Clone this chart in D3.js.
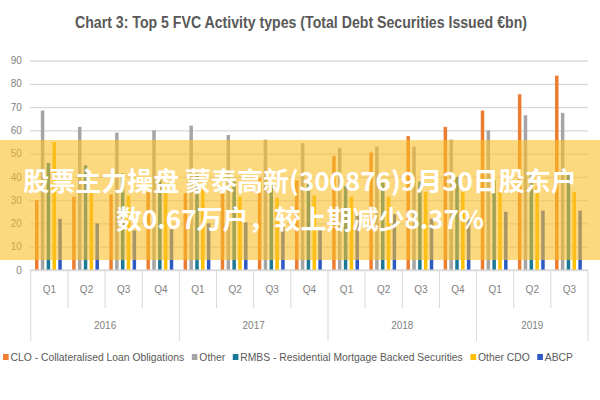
<!DOCTYPE html>
<html>
<head>
<meta charset="utf-8">
<script src="https://cdn.jsdelivr.net/npm/d3@7"></script>
<style>
  body { margin: 0; background: #fff; }
  svg { display: block; font-family: "Liberation Sans", sans-serif; }
</style>
</head>
<body>
<svg id="chart" width="600" height="400"></svg>
<script>
// Quarter categories and year groups
const quarters = ['Q1','Q2','Q3','Q4','Q1','Q2','Q3','Q4','Q1','Q2','Q3','Q4','Q1','Q2','Q3'];
const years = ['2016','2017','2018','2019'];
const yearSpans = [4, 4, 4, 3];

const seriesNames = [
  'CLO - Collateralised Loan Obligations',
  'Other',
  'RMBS - Residential Mortgage Backed Securities',
  'Other CDO',
  'ABCP'
];
const seriesColors = ['#ed7d31', '#a5a5a5', '#1b7896', '#ffc000', '#2e5ac4'];

// values in €bn
const clo      = [30, 31.5, 32.5, 33.5, 33, 33, 39.5, 38.5, 49, 50.5, 57.5, 61.5, 68.5, 75.5, 83.5];
const other    = [68.5, 61.5, 59, 60, 62, 58, 56, 54.5, 52.5, 53, 53, 56, 60, 66.5, 67.5];
const rmbs     = [46, 45, 41.5, 39, 41.5, 38, 37.5, 37, 36, 37.5, 38, 40, 38.5, 42, 41.5];
const otherCdo = [55, 33, 32, 33, 35, 31.5, 31, 32, 31.5, 31.5, 33.5, 33.5, 33.5, 36, 33.5];
const abcp     = [22, 20, 17, 17.5, 20, 20.5, 18.5, 18.5, 24, 24, 22, 22, 25, 25.5, 25.5];

const yTicks = [0, 10, 20, 30, 40, 50, 60, 70, 80, 90];

const title = 'Chart 3: Top 5 FVC Activity types (Total Debt Securities Issued €bn)';
const bannerLines = ['股票主力操盘 蒙泰高新(300876)9月30日股东户', '数0.67万户，较上期减少8.37%'];

const series = [clo, other, rmbs, otherCdo, abcp];

const svg = d3.select('#chart');
const plotLeft = 30.8, plotRight = 588, plotTop = 60.5, plotBottom = 270;

const x0 = d3.scaleBand().domain(d3.range(quarters.length)).range([plotLeft, plotRight]);
const x1 = d3.scaleBand().domain(d3.range(series.length)).range([4.2, 31]).paddingInner(0.4);
const y = d3.scaleLinear().domain([0, 90]).range([plotBottom, plotTop]);

// Title (condensed to mimic the narrow original face)
svg.append('text')
  .attr('x', 301).attr('y', 28)
  .attr('text-anchor', 'middle')
  .attr('font-size', 16).attr('font-weight', 'bold')
  .attr('fill', '#595959')
  .attr('textLength', 452).attr('lengthAdjust', 'spacingAndGlyphs')
  .text(title);

// Grid + y labels
const yAxis = svg.append('g')
  .attr('transform', `translate(${plotLeft - 1},0)`)
  .call(d3.axisLeft(y).tickValues(yTicks).tickSize(-(plotRight - plotLeft + 1)).tickPadding(8));
yAxis.select('.domain').remove();
yAxis.selectAll('line').attr('stroke', '#d9d9d9').attr('stroke-width', 1.3);
yAxis.selectAll('text').attr('font-size', 10).attr('fill', '#7f7f7f')
  .attr('font-family', '"Liberation Sans", sans-serif');

// Bars
series.forEach((vals, s) => {
  svg.append('g').selectAll('rect')
    .data(vals)
    .enter().append('rect')
      .attr('x', (d, i) => x0(i) + x1(s))
      .attr('y', d => y(d))
      .attr('width', x1.bandwidth())
      .attr('height', d => y(0) - y(d))
      .attr('fill', seriesColors[s]);
});

// Category axis
svg.append('line')
  .attr('x1', plotLeft).attr('x2', plotRight)
  .attr('y1', plotBottom).attr('y2', plotBottom)
  .attr('stroke', '#d9d9d9');

const xAxis = svg.append('g')
  .attr('transform', `translate(0,${plotBottom})`)
  .call(d3.axisBottom(x0).tickSize(0).tickPadding(16).tickFormat(i => quarters[i]));
xAxis.select('.domain').remove();
xAxis.selectAll('text').attr('font-size', 10).attr('fill', '#7f7f7f');

const yearStarts = d3.cumsum([0, ...yearSpans]).slice(0, -1);
const boundaries = d3.range(quarters.length + 1);
svg.append('g').selectAll('line')
  .data(boundaries)
  .enter().append('line')
    .attr('x1', i => i < quarters.length ? x0(i) : plotRight)
    .attr('x2', i => i < quarters.length ? x0(i) : plotRight)
    .attr('y1', plotBottom)
    .attr('y2', i => (yearStarts.includes(i) || i === quarters.length) ? 341 : 308)
    .attr('stroke', '#d9d9d9');

svg.append('g').selectAll('text')
  .data(years)
  .enter().append('text')
    .attr('x', (d, k) => x0(yearStarts[k]) + yearSpans[k] * x0.step() / 2)
    .attr('y', 329)
    .attr('text-anchor', 'middle')
    .attr('font-size', 10).attr('fill', '#7f7f7f')
    .text(d => d);

// Legend, squeezed horizontally to the original's width
const legend = svg.append('g').attr('transform', 'translate(3,357)');
const legendInner = legend.append('g');
let lx = 0;
seriesNames.forEach((name, s) => {
  const item = legendInner.append('g').attr('transform', `translate(${lx},0)`);
  item.append('rect').attr('x', 0).attr('y', -3).attr('width', 6).attr('height', 6)
    .attr('fill', seriesColors[s]);
  const t = item.append('text').attr('x', 8).attr('y', 4)
    .attr('font-size', 11).attr('fill', '#595959').text(name);
  lx += 8 + t.node().getComputedTextLength() + (s < seriesNames.length - 1 ? 8 : 0);
});
legendInner.attr('transform', `scale(${570 / lx},1)`);

// Banner overlay
svg.append('rect')
  .attr('x', 0).attr('y', 140).attr('width', 600).attr('height', 120)
  .attr('fill', 'rgb(250,190,40)').attr('fill-opacity', 0.6);

svg.append('g').selectAll('text')
  .data(bannerLines)
  .enter().append('text')
    .attr('x', 300)
    .attr('y', (d, i) => 191 + i * 38)
    .attr('text-anchor', 'middle')
    .attr('font-family', '"Noto Sans CJK SC", sans-serif')
    .attr('font-weight', 'bold')
    .attr('font-size', 26)
    .attr('fill', '#fff')
    .text(d => d);
</script>
</body>
</html>
